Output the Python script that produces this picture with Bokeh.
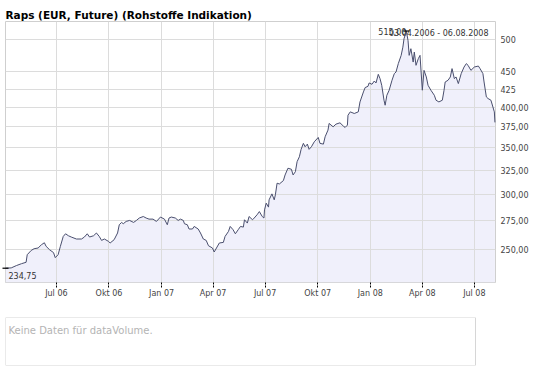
import pandas as pd
from bokeh.plotting import figure
from bokeh.layouts import column
from bokeh.models import Range1d, FixedTicker, CustomJSTickFormatter, Label, ColumnDataSource, BoxAnnotation
from bokeh.embed import file_html
from bokeh.resources import INLINE

# ---------------- data ----------------
title_text = "Raps (EUR, Future) (Rohstoffe Indikation)"
range_text = "03.04.2006 - 06.08.2008"
volume_text = "Keine Daten für dataVolume."
start_date = "2006-04-03"
end_date = "2008-08-07"

# days since start_date
day_offsets = [
    0, 10, 19, 28, 36, 38, 45, 50, 57, 63,
    68, 71, 77, 84, 87, 92, 96, 101, 105, 110,
    115, 124, 133, 138, 143, 147, 154, 159, 164, 168,
    173, 180, 183, 190, 196, 199, 203, 206, 211, 217,
    224, 229, 234, 241, 246, 251, 258, 264, 271, 278,
    283, 286, 290, 297, 302, 306, 311, 313, 318, 321,
    327, 330, 337, 341, 346, 351, 355, 362, 365, 369,
    374, 381, 384, 390, 393, 398, 402, 407, 411, 416,
    418, 423, 426, 432, 435, 440, 444, 449, 452, 453,
    456, 460, 461, 466, 470, 472, 475, 479, 486, 489,
    494, 500, 503, 507, 510, 514, 517, 521, 524, 528,
    531, 535, 540, 547, 550, 556, 559, 564, 566, 573,
    578, 585, 591, 594, 598, 599, 603, 610, 617, 620,
    626, 629, 634, 636, 641, 645, 648, 652, 655, 658,
    662, 664, 667, 671, 676, 680, 683, 687, 692, 695,
    697, 701, 704, 706, 709, 713, 715, 718, 722, 725,
    729, 732, 736, 739, 744, 750, 753, 758, 764, 767,
    769, 774, 778, 781, 785, 788, 792, 797, 802, 806,
    809, 814, 820, 827, 830, 835, 837, 841, 844, 849,
    855, 856,
]
prices = [
    234.75, 235.0, 236.8, 238.3, 239.4, 245.5, 249.0, 250.4, 251.0, 253.8,
    255.4, 252.4, 249.6, 247.2, 243.1, 245.5, 252.4, 260.8, 263.1, 261.4,
    260.3, 258.6, 258.6, 260.3, 263.1, 260.3, 261.4, 263.8, 260.8, 257.4,
    258.6, 256.6, 255.2, 258.0, 263.8, 271.1, 273.2, 272.0, 274.1, 275.0,
    273.2, 275.0, 277.2, 278.6, 277.2, 276.2, 276.2, 274.1, 278.1, 276.2,
    271.1, 277.2, 278.1, 277.2, 275.0, 276.2, 275.0, 272.0, 271.1, 267.3,
    267.3, 269.6, 267.3, 263.8, 258.6, 257.4, 252.9, 251.0, 247.7, 251.0,
    255.2, 255.7, 260.8, 265.2, 269.6, 266.7, 263.1, 266.7, 269.6, 269.0,
    275.6, 272.6, 278.6, 275.6, 277.2, 280.2, 283.2, 278.6, 277.2, 284.8,
    291.2, 287.4, 294.4, 300.3, 294.4, 299.3, 311.1, 310.3, 313.8, 319.7,
    326.9, 325.8, 319.7, 323.2, 334.1, 339.6, 348.0, 355.0, 351.0, 354.1,
    348.0, 351.0, 356.8, 362.0, 355.0, 354.1, 362.8, 370.9, 379.2, 375.0,
    378.3, 380.0, 375.8, 374.2, 377.1, 389.7, 394.0, 391.9, 394.0, 407.2,
    420.9, 427.0, 428.8, 433.6, 431.7, 436.4, 433.6, 446.2, 439.9, 430.3,
    409.5, 402.8, 416.3, 423.3, 437.5, 447.2, 449.6, 462.3, 475.1, 488.2,
    502.0, 515.0, 499.2, 475.1, 485.7, 464.7, 480.3, 459.7, 469.9, 475.1,
    423.3, 452.1, 442.3, 430.3, 423.3, 416.3, 409.5, 407.2, 409.5, 423.3,
    435.0, 437.5, 442.3, 454.7, 439.9, 442.3, 432.7, 447.2, 457.1, 462.3,
    459.7, 452.1, 457.1, 458.6, 454.7, 447.2, 435.0, 414.0, 411.8, 409.5,
    394.0, 380.5,
]

x_tick_dates = ["2006-07-01", "2006-10-01", "2007-01-01", "2007-04-01", "2007-07-01",
                "2007-10-01", "2008-01-01", "2008-04-01", "2008-07-01"]
x_tick_labels = ["Jul 06", "Okt 06", "Jan 07", "Apr 07", "Jul 07",
                 "Okt 07", "Jan 08", "Apr 08", "Jul 08"]
y_tick_values = [250, 275, 300, 325, 350, 375, 400, 425, 450, 500]
y_tick_labels = ["250,00", "275,00", "300,00", "325,00", "350,00", "375,00",
                 "400,00", "425", "450", "500"]
y_min, y_max = 223.9, 531.5

# ---------------- styling ----------------
FONT = "DejaVu Sans"
LINE_COLOR = "#4a4f6e"
FILL_COLOR = "#f0f0fb"
GRID_COLOR = "#dcdcdc"
FRAME_COLOR = "#cfcfcf"
TEXT_COLOR = "#444444"

dates = pd.Timestamp(start_date) + pd.to_timedelta(day_offsets, unit="D")
src = ColumnDataSource(dict(date=dates, price=prices, base=[y_min] * len(prices)))

p = figure(width=545, height=300, x_axis_type="datetime", y_axis_type="log",
           y_axis_location="right",
           x_range=Range1d(pd.Timestamp(start_date), pd.Timestamp(end_date)),
           y_range=Range1d(y_min, y_max),
           output_backend="svg", toolbar_location=None,
           min_border_left=5, min_border_right=50, min_border_top=21, min_border_bottom=17)

p.title.text = title_text
p.title.text_font = FONT
p.title.text_font_size = "10.5px"
p.title.text_font_style = "bold"
p.title.text_color = "#000000"
p.title.align = "left"
p.title.standoff = 2
p.title.offset = 0

p.outline_line_color = FRAME_COLOR
p.background_fill_color = "white"
p.border_fill_color = "white"

fmt_code = """
const i = vals.findIndex(v => Math.abs(v - tick) <= 1e-6 * Math.max(1, Math.abs(v)));
return i >= 0 ? labs[i] : "";
"""

x_tick_ms = [pd.Timestamp(d).value / 1e6 for d in x_tick_dates]
p.xaxis.ticker = FixedTicker(ticks=x_tick_ms)
p.xaxis.formatter = CustomJSTickFormatter(args=dict(vals=x_tick_ms, labs=x_tick_labels), code=fmt_code)
p.xaxis.axis_line_color = None
p.xaxis.major_tick_in = 0
p.xaxis.major_tick_out = 5
p.xaxis.major_tick_line_color = "black"
p.xaxis.major_tick_line_dash = "2 1"
p.xaxis.minor_tick_line_color = None
p.xaxis.major_label_standoff = 1
p.xaxis.major_label_text_font = FONT
p.xaxis.major_label_text_font_size = "8px"
p.xaxis.major_label_text_color = TEXT_COLOR

p.yaxis.ticker = FixedTicker(ticks=y_tick_values)
p.yaxis.formatter = CustomJSTickFormatter(args=dict(vals=y_tick_values, labs=y_tick_labels), code=fmt_code)
p.yaxis.axis_line_color = None
p.yaxis.major_tick_line_color = None
p.yaxis.major_tick_in = 0
p.yaxis.major_tick_out = 0
p.yaxis.minor_tick_line_color = None
p.yaxis.major_label_standoff = 5
p.yaxis.major_label_text_font = FONT
p.yaxis.major_label_text_font_size = "8px"
p.yaxis.major_label_text_color = TEXT_COLOR

p.xgrid.grid_line_color = GRID_COLOR
p.ygrid.grid_line_color = GRID_COLOR
p.xgrid.level = "glyph"
p.ygrid.level = "glyph"

p.varea(x="date", y1="base", y2="price", source=src, fill_color=FILL_COLOR, level="underlay")
p.line(x="date", y="price", source=src, line_color=LINE_COLOR, line_width=1, level="overlay")

i_min = prices.index(min(prices))
i_max = prices.index(max(prices))
p.scatter(x=[dates[i_min], dates[i_max]], y=[prices[i_min], prices[i_max]],
          marker="dash", size=6, line_color="black", line_width=1.2, level="overlay")


def de_num(v):
    return f"{v:.2f}".replace(".", ",")


p.add_layout(Label(x=dates[i_min], y=prices[i_min], text=de_num(prices[i_min]),
                   x_offset=3, y_offset=-7.5, text_align="left", text_baseline="alphabetic",
                   text_font=FONT, text_font_size="8px", text_color="#333333"))
p.add_layout(Label(x=dates[i_max], y=prices[i_max], text=de_num(prices[i_max]),
                   x_offset=0, y_offset=0, text_align="right", text_baseline="alphabetic",
                   text_font=FONT, text_font_size="8px", text_color="#333333"))
p.add_layout(Label(x=483, y=249, x_units="screen", y_units="screen", text=range_text,
                   text_align="right", text_baseline="alphabetic",
                   text_font=FONT, text_font_size="8px", text_color="#333333"))

# ---------------- volume panel ----------------
# same frame width as the main chart (490 px); the visible box is 470 px wide
p2 = figure(width=545, height=70, x_range=Range1d(0, 490), y_range=Range1d(0, 1),
            x_axis_location=None, y_axis_location=None,
            output_backend="svg", toolbar_location=None,
            min_border_left=5, min_border_right=50, min_border_top=17, min_border_bottom=5)
p2.grid.visible = False
p2.outline_line_color = None
p2.background_fill_color = "white"
p2.border_fill_color = "white"
p2.add_layout(BoxAnnotation(left=0, right=470, bottom=0, top=1, fill_color=None,
                            line_color="#d6d6d6", line_width=1, line_alpha=1.0))
p2.add_layout(Label(x=3, y=35, x_units="screen", y_units="screen", text=volume_text,
                    text_align="left", text_baseline="alphabetic",
                    text_font=FONT, text_font_size="10px", text_color="#b4b4b4"))

layout = column(p, p2, spacing=0)
open("out.html", "w").write(file_html(layout, INLINE))
